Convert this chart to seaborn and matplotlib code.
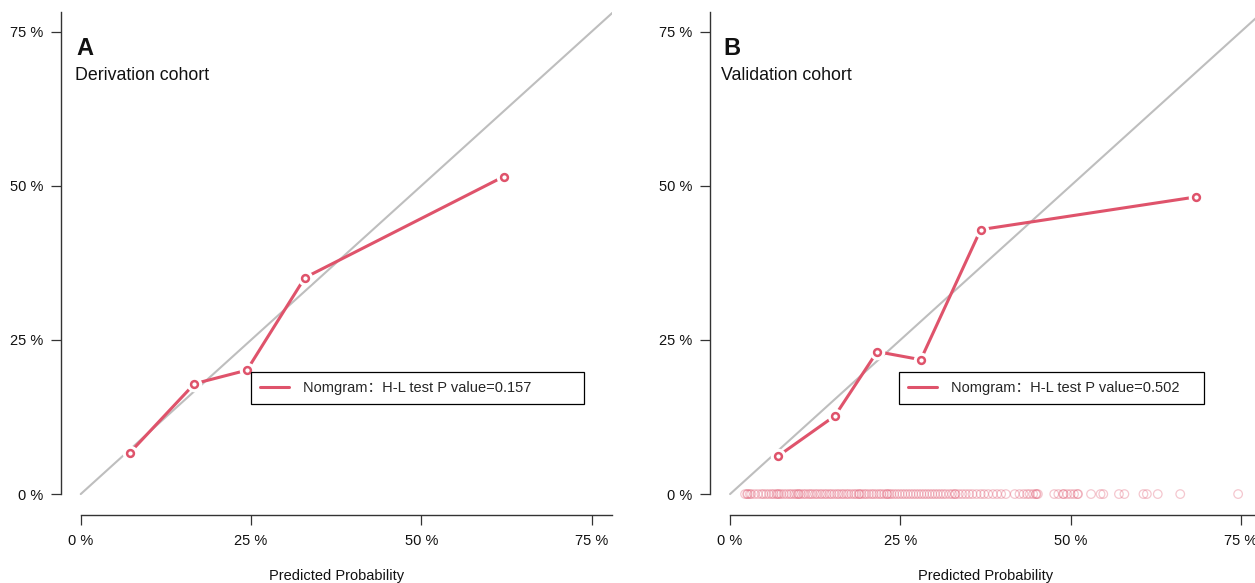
import matplotlib
matplotlib.use('Agg')
import matplotlib.pyplot as plt
import seaborn as sns

# Tema dasar
sns.set_theme(style="ticks")
plt.rcParams['font.family'] = ['Liberation Sans', 'Noto Sans CJK SC']

RED = '#DF536B'

# Data kalibrasi
deriv_pred = [0.072, 0.167, 0.244, 0.329, 0.621]
deriv_obs = [0.067, 0.179, 0.201, 0.351, 0.515]
valid_pred = [0.071, 0.154, 0.216, 0.280, 0.368, 0.684]
valid_obs = [0.062, 0.127, 0.231, 0.218, 0.429, 0.482]

# Probabilitas prediksi individu (rug) pada kohort validasi
rug_pred = [0.022, 0.025, 0.026, 0.029, 0.031, 0.036, 0.041, 0.046, 0.049, 0.053,
            0.057, 0.061, 0.064, 0.068, 0.070, 0.072, 0.075, 0.079, 0.083, 0.087,
            0.090, 0.094, 0.097, 0.100, 0.101, 0.104, 0.108, 0.111, 0.115, 0.118,
            0.121, 0.125, 0.128, 0.132, 0.135, 0.139, 0.142, 0.146, 0.149, 0.153,
            0.157, 0.160, 0.164, 0.167, 0.171, 0.174, 0.178, 0.182, 0.185, 0.189,
            0.190, 0.193, 0.197, 0.200, 0.204, 0.208, 0.211, 0.215, 0.219, 0.222,
            0.226, 0.230, 0.231, 0.234, 0.237, 0.241, 0.245, 0.249, 0.253, 0.257,
            0.261, 0.265, 0.269, 0.273, 0.277, 0.281, 0.285, 0.289, 0.293, 0.297,
            0.301, 0.305, 0.309, 0.313, 0.317, 0.322, 0.326, 0.330, 0.331, 0.336,
            0.341, 0.346, 0.351, 0.356, 0.362, 0.368, 0.373, 0.379, 0.386, 0.392,
            0.398, 0.405, 0.418, 0.425, 0.431, 0.436, 0.440, 0.445, 0.449, 0.450,
            0.452, 0.476, 0.482, 0.489, 0.490, 0.495, 0.500, 0.505, 0.510, 0.511,
            0.530, 0.544, 0.548, 0.571, 0.579, 0.607, 0.612, 0.628, 0.661, 0.746]
rug_obs = [0.0] * len(rug_pred)

panel_letters = ['A', 'B']
cohort_names = ['Derivation cohort', 'Validation cohort']
p_values = ['0.157', '0.502']
tick_vals = [0, 0.25, 0.5, 0.75]
tick_labels = ['0 %', '25 %', '50 %', '75 %']

fig = plt.figure(figsize=(12.55, 5.83), dpi=100)
axA = fig.add_axes([0.0486, 0.1166, 0.439, 0.8628])
axB = fig.add_axes([0.566, 0.1166, 0.439, 0.8628])


def draw_panel(ax, pred, obs, letter, name, pval, leg_box, text_x, rug=None):
    # garis diagonal ideal
    ax.plot([0, 1], [0, 1], color='#BEBEBE', lw=1.5, zorder=1)
    if rug is not None:
        sns.scatterplot(x=rug[0], y=rug[1], facecolor='none', edgecolor=RED, s=38,
                        linewidth=0.9, alpha=0.32, ax=ax, zorder=2, legend=False)
    sns.lineplot(x=pred, y=obs, sort=False, color=RED, lw=2.2, ax=ax, zorder=2,
                 label=f'Nomgram：H-L test P value={pval}')
    # celah putih di sekitar titik (gaya type="b")
    sns.scatterplot(x=pred, y=obs, color='white', s=125, linewidth=0, ax=ax, zorder=3,
                    legend=False)
    sns.scatterplot(x=pred, y=obs, color='white', edgecolor=RED, s=24, linewidth=1.8,
                    ax=ax, zorder=4, legend=False)

    ax.set_xlim(-0.029, 0.78)
    ax.set_ylim(-0.034, 0.782)
    ax.set_xticks(tick_vals)
    ax.set_xticklabels(tick_labels)
    ax.set_yticks(tick_vals)
    ax.set_yticklabels(tick_labels)
    ax.tick_params(axis='both', bottom=True, left=True, length=7, width=0.9,
                   color='#333333', labelsize=10.5, labelcolor='#111111')
    ax.tick_params(axis='x', pad=7)
    ax.tick_params(axis='y', pad=6)
    ax.set_xlabel('Predicted Probability', fontsize=10.5, labelpad=15, color='#111111')
    ax.set_ylabel('')

    for side in ['top', 'right']:
        ax.spines[side].set_visible(False)
    for side in ['left', 'bottom']:
        ax.spines[side].set_color('#333333')
        ax.spines[side].set_linewidth(1.0)
    ax.spines['left'].set_bounds(0, 0.782)
    ax.spines['bottom'].set_bounds(0, 0.78)

    ax.text(text_x, 0.713, letter, fontsize=17, fontweight='bold', color='#111111')
    ax.text(text_x - 0.003, 0.672, name, fontsize=12.8, color='#111111')

    ax.legend(loc='upper left', bbox_to_anchor=leg_box, bbox_transform=ax.transData,
              mode='expand', frameon=True, fancybox=False, edgecolor='black',
              framealpha=1, borderaxespad=0, fontsize=10.5, handlelength=2,
              handletextpad=1.0, borderpad=0.6)
    ax.get_legend().get_frame().set_linewidth(0.9)


draw_panel(axA, deriv_pred, deriv_obs, panel_letters[0], cohort_names[0], p_values[0],
           (0.25, 0.143, 0.489, 0.055), -0.006)
draw_panel(axB, valid_pred, valid_obs, panel_letters[1], cohort_names[1], p_values[1],
           (0.248, 0.143, 0.448, 0.055), -0.010, rug=(rug_pred, rug_obs))

fig.savefig('out.png', dpi=100)
